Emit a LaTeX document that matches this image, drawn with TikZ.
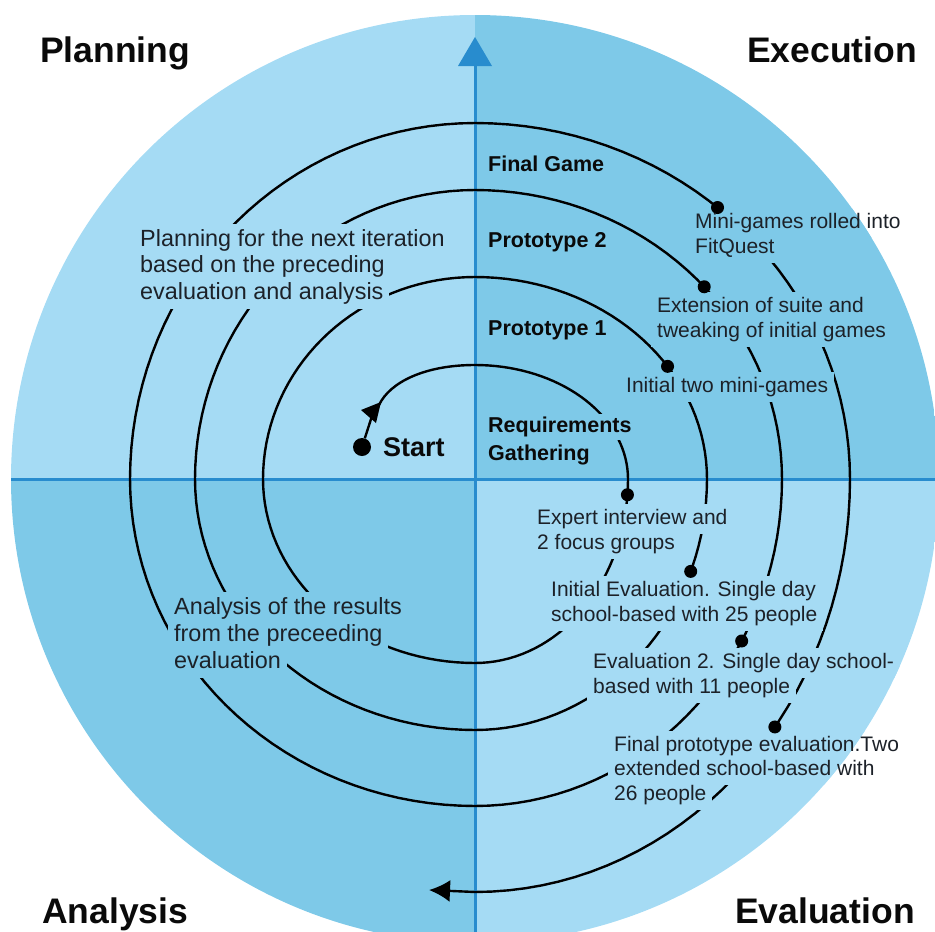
\documentclass[tikz,border=0pt]{standalone}
\usepackage{fontspec}
\setmainfont{Liberation Sans}
\usetikzlibrary{arrows.meta}
\definecolor{lightq}{RGB}{165,219,244}
\definecolor{darkq}{RGB}{126,201,232}
\definecolor{axisc}{RGB}{40,140,206}
\definecolor{txtc}{RGB}{28,33,40}
\definecolor{inkc}{RGB}{10,10,10}
% #1 name, #2 style, #3 position, #4 gap colour, #5 text
\newcommand\gapnode[5]{\node[#2, fill=#4] (g#1) at (#3) {\phantom{#5}};}
\newcommand\txtnode[5]{\node[#2] (#1) at (#3) {#5};}
\newcommand\alllines[1]{%
  #1{fg}{lab}{484,171}{darkq}{Final Game}%
  #1{p2}{lab}{484,247}{darkq}{Prototype 2}%
  #1{p1}{lab}{484,335}{darkq}{Prototype 1}%
  #1{rq1}{lab}{484,432}{darkq}{Requirements}%
  #1{rq2}{lab}{484,460}{darkq}{Gathering}%
  #1{pl1}{bodyL}{134,246}{lightq}{Planning for the next iteration}%
  #1{pl2}{bodyL}{134,272}{lightq}{based on the preceding}%
  #1{pl3}{bodyL}{134,299}{lightq}{evaluation and analysis}%
  #1{an1}{bodyL}{168,614}{darkq}{Analysis of the results}%
  #1{an2}{bodyL}{168,641}{darkq}{from the preceeding}%
  #1{an3}{bodyL}{168,668}{darkq}{evaluation}%
  #1{mg1}{body}{689,228}{darkq}{Mini-games rolled into}%
  #1{mg2}{body}{689,253}{darkq}{FitQuest}%
  #1{es1}{body}{651,312}{darkq}{Extension of suite and}%
  #1{es2}{body}{651,337}{darkq}{tweaking of initial games}%
  #1{it1}{body}{620,392}{darkq}{Initial two mini-games}%
  #1{ex1}{body}{531,524}{lightq}{Expert interview and}%
  #1{ex2}{body}{531,549}{lightq}{2 focus groups}%
  #1{ie1}{body}{545,596}{lightq}{Initial Evaluation. Single day}%
  #1{ie2}{body}{545,621}{lightq}{school-based with 25 people}%
  #1{e21}{body}{587,668}{lightq}{Evaluation 2. Single day school-}%
  #1{e22}{body}{587,693}{lightq}{based with 11 people}%
  #1{fp1}{body}{608,751}{lightq}{Final prototype evaluation.Two}%
  #1{fp2}{body}{608,775}{lightq}{extended school-based with}%
  #1{fp3}{body}{608,800}{lightq}{26 people}%
}
\begin{document}
\begin{tikzpicture}[x=1pt,y=-1pt,
  spiral/.style={line width=2.4pt, draw=black, line join=round},
  dotn/.style={circle, fill=black, inner sep=0pt, minimum size=13pt},
  body/.style={anchor=base west, inner xsep=6pt, inner ysep=5pt, text height=15.5pt, text depth=4.5pt, text=txtc, font=\fontsize{21}{25}\selectfont},
  bodyL/.style={body, text height=17pt, text depth=5pt, font=\fontsize{23.4}{27}\selectfont},
  lab/.style={body, inner xsep=4pt, inner ysep=3pt, text=inkc, font=\bfseries\fontsize{21.5}{26}\selectfont},
  title/.style={anchor=base west, inner sep=0pt, text=inkc, font=\bfseries\fontsize{35.5}{42}\selectfont}]

\useasboundingbox (0,0) rectangle (935,932);

\begin{scope}
  \clip (475,479) circle[radius=464pt];
  \fill[lightq] (0,0) rectangle (475,479);
  \fill[darkq] (475,0) rectangle (935,479);
  \fill[darkq] (0,479) rectangle (475,932);
  \fill[lightq] (475,479) rectangle (935,932);
  \draw[axisc, line width=3pt] (0,479) -- (935,479);
  \draw[axisc, line width=3pt] (475,932) -- (475,62);
\end{scope}
\fill[axisc] (475,37) -- (492,66) -- (458,66) -- cycle;

% the spiral
\draw[spiral, -{Latex[length=21pt,width=22pt]}] (379,405) .. controls (390,382) and (425,365) .. (475,365)
  -- plot[domain=-90:0, samples=36] ({475+153*cos(\x)},{479+114*sin(\x)})
  -- plot[domain=0:90, samples=36] ({475+153*cos(\x)},{479+184*sin(\x)})
  -- plot[domain=90:180, samples=36] ({475+212*cos(\x)},{479+184*sin(\x)})
  -- plot[domain=180:270, samples=36] ({475+212*cos(\x)},{479+202*sin(\x)})
  -- plot[domain=270:360, samples=36] ({475+232*cos(\x)},{479+202*sin(\x)})
  -- plot[domain=360:450, samples=36] ({475+232*cos(\x)},{479+251*sin(\x)})
  -- plot[domain=450:540, samples=36] ({475+280*cos(\x)},{479+251*sin(\x)})
  -- plot[domain=540:630, samples=36] ({475+280*cos(\x)},{479+289*sin(\x)})
  -- plot[domain=630:720, samples=36] ({475+307*cos(\x)},{479+289*sin(\x)})
  -- plot[domain=720:810, samples=36] ({475+307*cos(\x)},{479+327*sin(\x)})
  -- plot[domain=810:900, samples=36] ({475+345*cos(\x)},{479+327*sin(\x)})
  -- plot[domain=900:990, samples=36] ({475+345*cos(\x)},{479+356*sin(\x)})
  -- plot[domain=990:1080, samples=36] ({475+375*cos(\x)},{479+356*sin(\x)})
  -- plot[domain=1080:1170, samples=36] ({475+375*cos(\x)},{479+413*sin(\x)})
  -- (429,890);

% gaps in the spiral behind the texts
\begin{scope}
  \clip (475,479) circle[radius=464pt];
  \alllines\gapnode
\end{scope}

% start of the spiral
\node[dotn, minimum size=18pt] (sd) at (362,447) {};
\draw[spiral] (sd) -- (372,416);
\fill[black] (361,410) -- (381,402) -- (376,423) -- cycle;

% milestone dots
\node[dotn] (d1) at ({475+375*cos(-49.7)},{479+356*sin(-49.7)}) {};
\node[dotn] (d2) at ({475+307*cos(-41.7)},{479+289*sin(-41.7)}) {};
\node[dotn] (d3) at ({475+232*cos(-33.9)},{479+202*sin(-33.9)}) {};
\node[dotn] (d4) at ({475+153*cos(4.9)},{479+184*sin(4.9)}) {};
\node[dotn] (d5) at ({475+232*cos(21.6)},{479+251*sin(21.6)}) {};
\node[dotn] (d6) at ({475+307*cos(29.7)},{479+327*sin(29.7)}) {};
\node[dotn] (d7) at ({475+375*cos(36.9)},{479+413*sin(36.9)}) {};

% titles
\node[title] (tPlan) at (40,62) {Planning};
\node[title] (tExec) at (747,62) {Execution};
\node[title] (tAna) at (42,923) {Analysis};
\node[title] (tEval) at (735,923) {Evaluation};
\node[anchor=base west, inner sep=0pt, text=inkc, font=\bfseries\fontsize{27}{30}\selectfont] (st) at (383,456) {Start};

% phase labels and descriptions
\alllines\txtnode
\end{tikzpicture}
\end{document}
